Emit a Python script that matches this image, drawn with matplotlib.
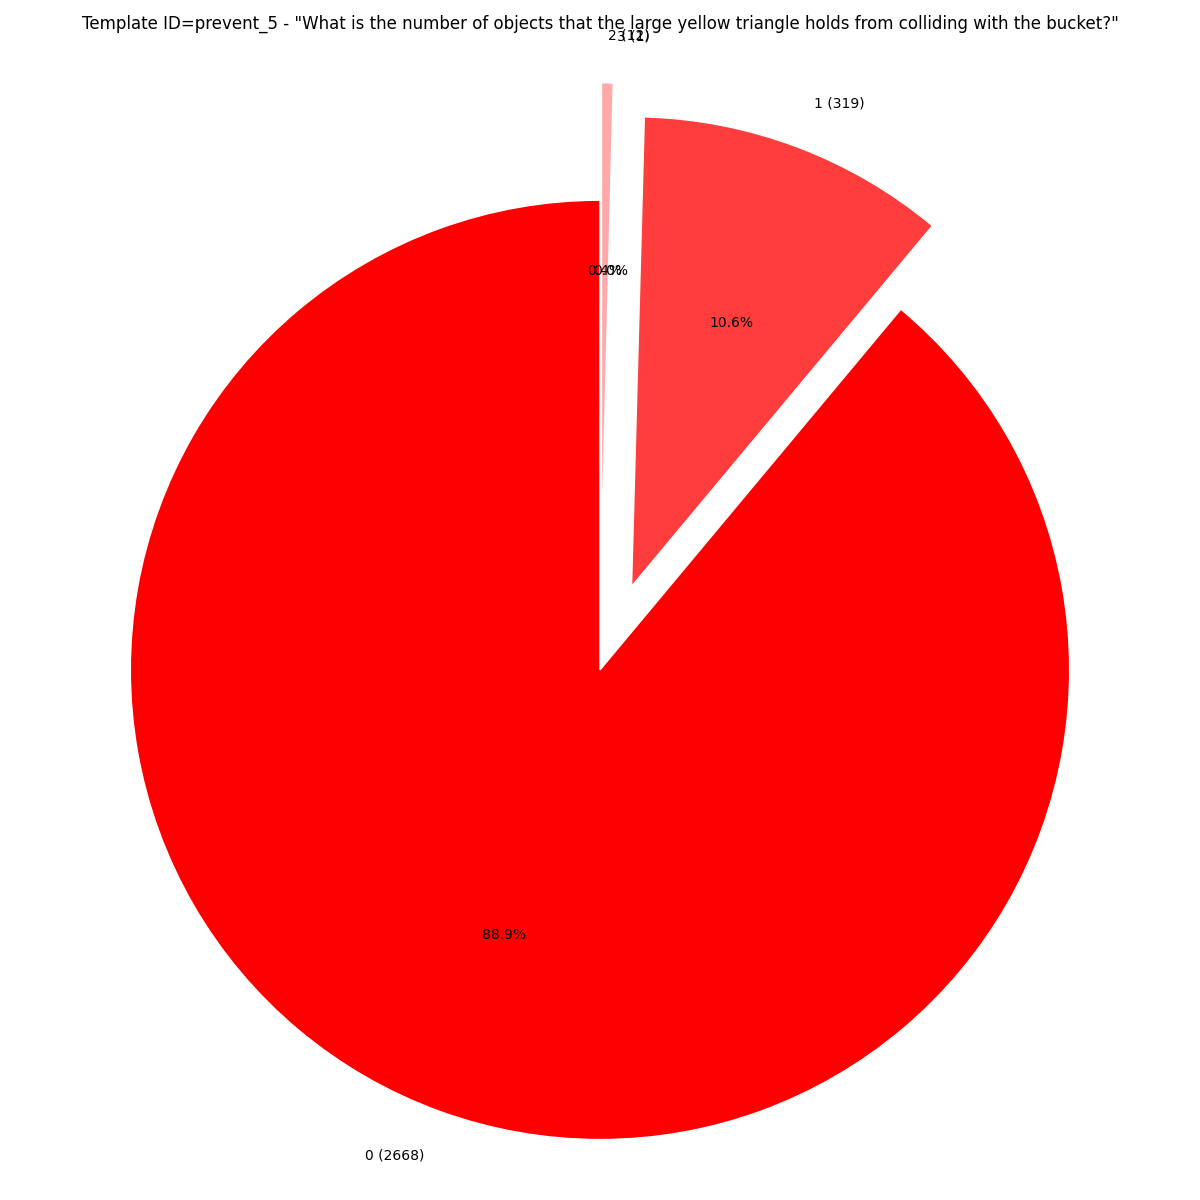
import matplotlib
matplotlib.use('Agg')
import matplotlib.pyplot as plt

# DATA ##########################################

categories = ['0', '1', '3', '2']
counts = [2668, 319, 1, 12]
colors = ['#ff0000', '#ff3d3d', '#ff7f7f', '#ffaaaa']
explode = [0, 0.19, 0.25, 0.25]

labels = [f'{c} ({n})' for c, n in zip(categories, counts)]

# FIGURE ########################################

fig, ax = plt.subplots(figsize=(12, 12), dpi=100)

ax.pie(
    counts,
    labels=labels,
    colors=colors,
    explode=explode,
    autopct='%1.1f%%',
    startangle=90,
    wedgeprops={'edgecolor': 'white', 'linewidth': 1},
)
ax.axis('equal')
ax.set_title('Template ID=prevent_5 - "What is the number of objects that the large yellow triangle holds from colliding with the bucket?"')

plt.tight_layout()
plt.savefig('out.png')
